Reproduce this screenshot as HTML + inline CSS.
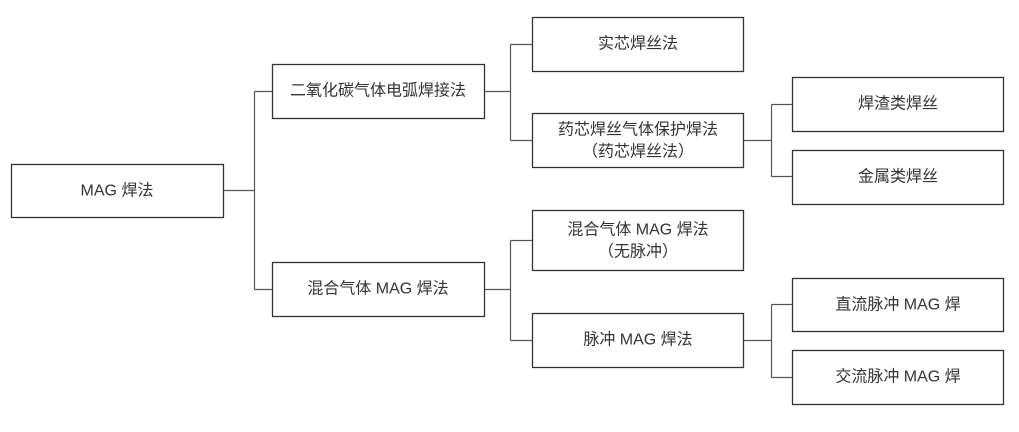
<!DOCTYPE html>
<html><head><meta charset="utf-8"><style>
html,body{margin:0;padding:0;background:#fff;}
svg{display:block}
text{font-family:"Liberation Sans","Noto Sans CJK SC",sans-serif;font-size:16px;fill:#333;text-anchor:middle;dominant-baseline:central}
</style></head><body>
<svg width="1019" height="432" viewBox="0 0 1019 432">
<g fill="#fff" stroke="#333" stroke-width="1.3">
<rect x="11.5" y="164.5" width="212" height="53"/>
<rect x="272.5" y="64.5" width="212" height="54"/>
<rect x="272.5" y="262.5" width="212" height="54"/>
<rect x="532.5" y="17.5" width="211" height="54"/>
<rect x="532.5" y="113.5" width="211" height="54"/>
<rect x="532.5" y="210.5" width="211" height="60"/>
<rect x="532.5" y="313.5" width="211" height="54"/>
<rect x="792.5" y="77.5" width="211" height="54"/>
<rect x="792.5" y="150.5" width="211" height="54"/>
<rect x="792.5" y="278.5" width="211" height="53"/>
<rect x="792.5" y="350.5" width="211" height="54"/>
</g>
<g fill="none" stroke="#555" stroke-width="1.2">
<path d="M224 190.5H254.5M254.5 91.5V289.5M254.5 91.5H272M254.5 289.5H272"/>
<path d="M485 91.5H510.5M510.5 44.5V140.5M510.5 44.5H532M510.5 140.5H532"/>
<path d="M485 289.5H510.5M510.5 240.5V340.5M510.5 240.5H532M510.5 340.5H532"/>
<path d="M744 140.5H771.5M771.5 104.5V176.5M771.5 104.5H792M771.5 176.5H792"/>
<path d="M744 340.5H771.5M771.5 304.5V377.5M771.5 304.5H792M771.5 377.5H792"/>
</g>
<text x="117" y="191">MAG 焊法</text>
<text x="378" y="91">二氧化碳气体电弧焊接法</text>
<text x="378" y="289">混合气体 MAG 焊法</text>
<text x="638" y="44">实芯焊丝法</text>
<text x="638" y="130">药芯焊丝气体保护焊法</text>
<text x="638" y="152">（药芯焊丝法）</text>
<text x="638" y="230">混合气体 MAG 焊法</text>
<text x="638" y="252">（无脉冲）</text>
<text x="638" y="340">脉冲 MAG 焊法</text>
<text x="898" y="104">焊渣类焊丝</text>
<text x="898" y="177">金属类焊丝</text>
<text x="898" y="305">直流脉冲 MAG 焊</text>
<text x="898" y="377">交流脉冲 MAG 焊</text>
</svg>
</body></html>
